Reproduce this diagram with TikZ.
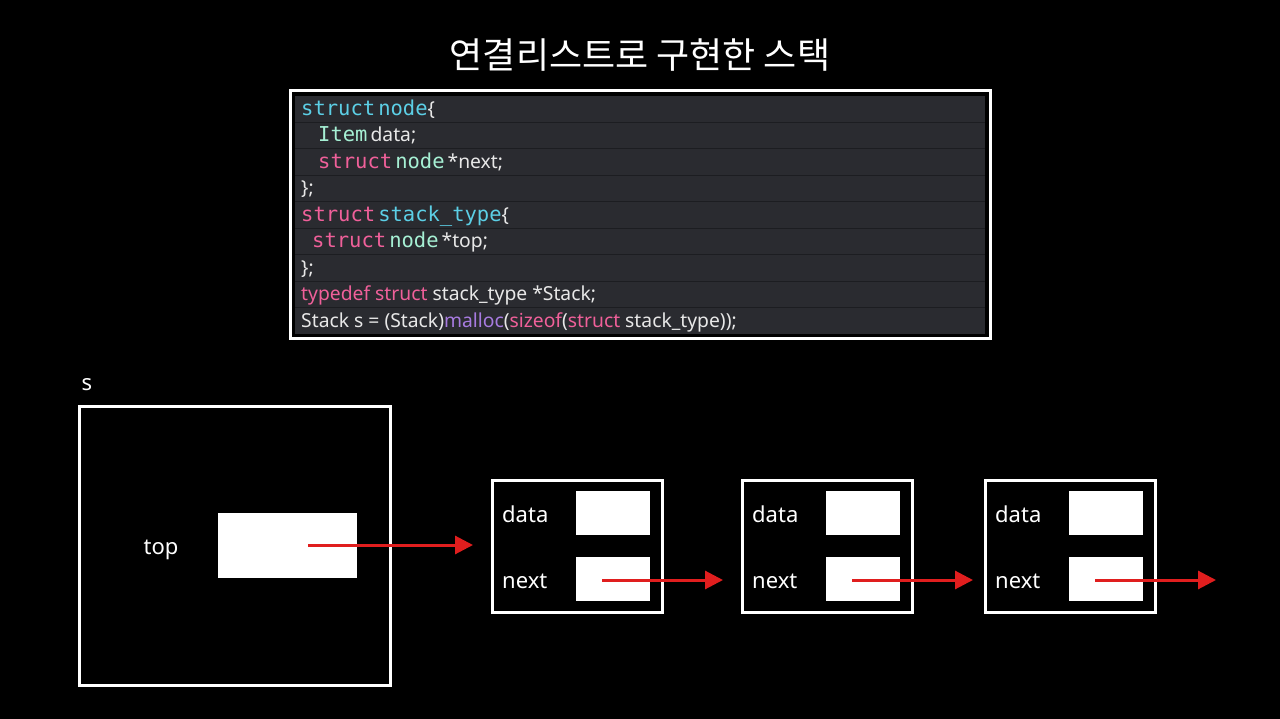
\documentclass[tikz,border=0pt]{standalone}
\usepackage{fontspec}
\setmainfont{Noto Sans}
\newfontfamily\krfont{Noto Sans CJK KR}
\newfontfamily\monof{DejaVu Sans Mono}
\usetikzlibrary{arrows.meta}
\definecolor{codebg}{HTML}{2A2B30}
\definecolor{rowsep}{HTML}{1C1D21}
\definecolor{kwcyan}{HTML}{5CCFE6}
\definecolor{kwmint}{HTML}{A6F0D4}
\definecolor{kwpink}{HTML}{F0609A}
\definecolor{kwpurple}{HTML}{A77BE0}
\definecolor{codewhite}{HTML}{E8E8E8}
\definecolor{arrred}{HTML}{E01E1E}
\newcommand{\kw}[2]{{\monof\fontsize{20.5}{22}\selectfont\color{#1}#2}}
\newcommand{\sw}[2]{{\color{#1}#2}}
\tikzset{
  codeline/.style={anchor=base west, inner sep=0pt, text=codewhite, font=\fontsize{19.3}{22}\selectfont},
  membox/.style={draw=white, line width=3pt, fill=black},
  cell/.style={fill=white, draw=none},
  lbl/.style={text=white, font=\fontsize{22}{24}\selectfont, inner sep=0pt},
  ptr/.style={draw=arrred, line width=3pt, -{Triangle[length=18pt,width=18pt]}}
}
\begin{document}
\begin{tikzpicture}[x=1pt,y=-1pt]
\fill[black] (0,0) rectangle (1280,719);
\useasboundingbox (0,0) rectangle (1280,719);
% title
\node[text=white, font=\krfont\fontsize{36}{40}\selectfont, inner sep=0pt] (title) at (640,55) {연결리스트로 구현한 스택};
% code box
\draw[white, line width=3pt, fill=black] (290,91) rectangle (990,339);
\fill[codebg] (295,96) rectangle (985,334);
\foreach \i in {1,...,8} {
  \draw[rowsep, line width=1pt] (295,{96+26.44*\i}) -- (985,{96+26.44*\i});
}
\node[codeline] (c1) at (301,115.5) {\kw{kwcyan}{struct}\kern3pt\kw{kwcyan}{node}\{};
\node[codeline] (c2) at (318,142) {\kw{kwmint}{Item}\kern3pt data;};
\node[codeline] (c3) at (318,168.5) {\kw{kwpink}{struct}\kern3pt\kw{kwmint}{node}\kern3pt*next;};
\node[codeline] (c4) at (301,195) {\};};
\node[codeline] (c5) at (301,221.5) {\kw{kwpink}{struct}\kern3pt\kw{kwcyan}{stack\_type}\{};
\node[codeline] (c6) at (312,248) {\kw{kwpink}{struct}\kern3pt\kw{kwmint}{node}\kern3pt*top;};
\node[codeline] (c7) at (301,274.5) {\};};
\node[codeline] (c8) at (301,300.5) {\sw{kwpink}{typedef struct} stack\_type *Stack;};
\node[codeline] (c9) at (301,327) {Stack s = (Stack)\sw{kwpurple}{malloc}(\sw{kwpink}{sizeof}(\sw{kwpink}{struct} stack\_type));};
% stack s
\node[lbl, anchor=base] (slbl) at (87,390) {s};
\draw[membox] (79,406) rectangle (390,685);
\fill[cell] (218,513) rectangle (357,578);
\coordinate (topcell) at (308,545);
\node[lbl, anchor=base] (toplbl) at (161,554) {top};
\coordinate (topend) at (473,545);
\draw[ptr] (topcell) -- (topend);
% list nodes
\foreach \n/\x in {n1/492, n2/742, n3/985} {
  \draw[membox] (\x,480) rectangle ++(170,132);
  \fill[cell] (\x+84,491) rectangle ++(74,44);
  \fill[cell] (\x+84,557) rectangle ++(74,44);
  \node[lbl, anchor=base west] (\n data) at (\x+10,522) {data};
  \node[lbl, anchor=base west] (\n next) at (\x+10,588) {next};
  \coordinate (\n ptr) at (\x+110,580);
  \coordinate (\n end) at (\x+231,580);
  \draw[ptr] (\n ptr) -- (\n end);
}
\end{tikzpicture}
\end{document}
